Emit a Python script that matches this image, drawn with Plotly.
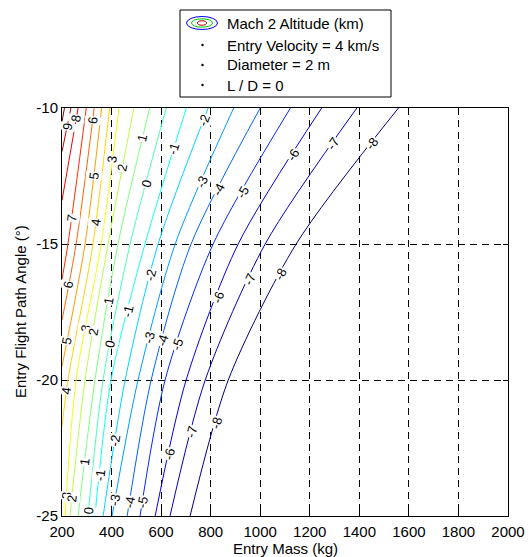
import math
import plotly.graph_objects as go

# ---------------- data ----------------
row_angles = [-10, -15, -20, -25]          # entry flight path angle rows (deg)
levels = [-8, -7, -6, -5, -4, -3, -2, -1, 0, 1, 2, 3, 4, 5, 6, 7, 8, 9, 10]

# entry mass (kg) where each Mach-2-altitude contour crosses each angle row
mass_at_rows = {
    -8: [1558, 1145, 871, 717],
    -7: [1390, 1020, 778, 636],
    -6: [1248, 911, 701, 576],
    -5: [1122, 810, 616, 515],
    -4: [1000, 721, 560, 463],
    -3: [893, 657, 507, 402],
    -2: [790, 588, 455, 366],
    -1: [702, 535, 398, 333],
    0:  [621, 475, 366, 305],
    1:  [554, 426, 333, 265],
    2:  [490, 386, 293, 232],
    3:  [430, 358, 257, 212],
    4:  [392, 325, 224],
    5:  [360, 293],
    6:  [330, 257],
    7:  [298, 224],
    8:  [265],
    9:  [236],
    10: [210],
}
# angle at which a contour leaves through the left edge (mass = 200 kg)
left_exit_angle = {4: -21.7, 5: -19.5, 6: -17.8, 7: -16.3, 8: -13.4, 9: -11.6, 10: -10.5}

# contour labels: (level, angle where the label sits)
label_spots = [
    (9, -10.7), (8, -10.4), (6, -10.45), (5, -12.5), (4, -14.2), (7, -14.05),
    (3, -11.9), (2, -12.2), (1, -11.1), (0, -12.8), (-1, -11.5), (-2, -10.45),
    (-3, -12.7), (-4, -13.0), (-5, -13.1), (-6, -11.7), (-7, -11.3), (-8, -11.3),
    (6, -16.5), (5, -18.55), (3, -18.1), (2, -18.25), (1, -17.1), (0, -18.7),
    (-1, -17.45), (-2, -16.15), (-3, -18.45), (-4, -18.55), (-5, -18.7),
    (-6, -16.95), (-7, -16.3), (-8, -16.1), (4, -20.4),
    (3, -24.25), (2, -24.35), (1, -23.0), (0, -24.8), (-1, -23.5), (-2, -22.2),
    (-3, -24.4), (-4, -24.5), (-5, -24.5), (-6, -22.7), (-7, -21.9), (-8, -21.55),
]

x_ticks = [200, 400, 600, 800, 1000, 1200, 1400, 1600, 1800, 2000]
y_ticks = [-25, -20, -15, -10]
x_range = [200, 2000]
y_range = [-25, -10]

x_title = "Entry Mass (kg)"
y_title = "Entry Flight Path Angle (°)"
legend_title = "Mach 2 Altitude (km)"
legend_notes = ["Entry Velocity = 4 km/s", "Diameter = 2 m", "L / D = 0"]

# ---------------- layout geometry ----------------
W, H = 529, 557
ML, MR, MT, MB = 62, 21, 108, 41
PW, PH = W - ML - MR, H - MT - MB
FONT = "Liberation Sans, Arial, sans-serif"


def jet(t):
    t = min(max(t, 0.0), 1.0)
    r = min(max(1.5 - abs(4 * t - 3), 0), 1)
    g = min(max(1.5 - abs(4 * t - 2), 0), 1)
    b = min(max(1.5 - abs(4 * t - 1), 0), 1)
    return f"rgb({int(r*255)},{int(g*255)},{int(b*255)})"


def level_path(lv):
    ms = list(mass_at_rows[lv])
    ang = row_angles[:len(ms)]
    if lv in left_exit_angle:
        ms = ms + [x_range[0]]
        ang = ang + [left_exit_angle[lv]]
    return ms, ang


fig = go.Figure()
lo, hi = min(levels), max(levels)
for lv in levels:
    ms, ang = level_path(lv)
    fig.add_trace(go.Scatter(
        x=ms, y=ang, mode="lines",
        line=dict(color=jet((lv - lo) / (hi - lo)), width=1, shape="spline", smoothing=0.8),
        showlegend=False, hoverinfo="skip"))

# contour labels placed on their lines, rotated with the line
kx = PW / (x_range[1] - x_range[0])
ky = PH / (y_range[1] - y_range[0])
annotations = []
for lv, a in label_spots:
    ms, ang = level_path(lv)
    for i in range(len(ang) - 1):
        a0, a1 = ang[i], ang[i + 1]
        if a1 <= a <= a0:
            f = (a0 - a) / (a0 - a1) if a0 != a1 else 0
            m = ms[i] + f * (ms[i + 1] - ms[i])
            dx = (ms[i] - ms[i + 1]) * kx
            dy = (a0 - a1) * ky
            theta = math.degrees(math.atan2(dy, dx))
            annotations.append(dict(
                x=m, y=a, xref="x", yref="y", text=str(lv), showarrow=False,
                textangle=-theta, font=dict(family=FONT, size=13, color="black"),
                bgcolor="white", borderpad=0))
            break


def px(xp):
    return (xp - ML) / PW


def py(yp):
    return (H - MB - yp) / PH


shapes = []
# legend box
shapes.append(dict(type="rect", xref="paper", yref="paper",
                   x0=px(180), x1=px(391), y0=py(97), y1=py(10),
                   line=dict(color="black", width=1), fillcolor="white", layer="above"))
# contour icon
for (hw, hh, col) in [(15.5, 6.5, "rgb(0,0,255)"), (10.5, 4.2, "rgb(0,200,0)"), (4.5, 2.2, "rgb(170,0,0)")]:
    cx, cy = 202, 23
    shapes.append(dict(type="circle", xref="paper", yref="paper",
                       x0=px(cx - hw), x1=px(cx + hw), y0=py(cy + hh), y1=py(cy - hh),
                       line=dict(color=col, width=1), layer="above"))
rows_y = [23, 45, 65, 85]
for yy in rows_y[1:]:
    shapes.append(dict(type="circle", xref="paper", yref="paper",
                       x0=px(201.5), x1=px(203.5), y0=py(yy + 1), y1=py(yy - 1),
                       line=dict(color="black", width=0.5), fillcolor="black", layer="above"))
legend_texts = [legend_title] + legend_notes
for yy, t in zip(rows_y, legend_texts):
    annotations.append(dict(x=px(225), y=py(yy), xref="paper", yref="paper",
                            xanchor="left", yanchor="middle", showarrow=False, text=t,
                            font=dict(family=FONT, size=15, color="black")))

# axis titles
annotations.append(dict(x=0.5, y=py(548), xref="paper", yref="paper", xanchor="center",
                        yanchor="middle", showarrow=False, text=x_title,
                        font=dict(family=FONT, size=15, color="black")))
annotations.append(dict(x=px(20), y=0.5, xref="paper", yref="paper", xanchor="center",
                        yanchor="middle", showarrow=False, text=y_title, textangle=-90,
                        font=dict(family=FONT, size=15, color="black")))

axis_common = dict(
    showline=True, linecolor="black", linewidth=1, mirror="ticks",
    ticks="inside", ticklen=5, tickcolor="black", automargin=False,
    showgrid=True, gridcolor="black", gridwidth=1, griddash="7px,5px",
    zeroline=False, tickfont=dict(family=FONT, size=15, color="black"),
)
fig.update_layout(
    width=W, height=H, margin=dict(l=ML, r=MR, t=MT, b=MB, pad=0),
    paper_bgcolor="white", plot_bgcolor="white",
    font=dict(family=FONT, size=15, color="black"),
    xaxis=dict(range=x_range, tickvals=x_ticks, ticktext=[str(v) for v in x_ticks],
               ticklabelstandoff=2, **axis_common),
    yaxis=dict(range=y_range, tickvals=y_ticks, ticktext=[str(v) for v in y_ticks],
               **axis_common),
    shapes=shapes, annotations=annotations, showlegend=False,
)

fig.write_html("out.html")
